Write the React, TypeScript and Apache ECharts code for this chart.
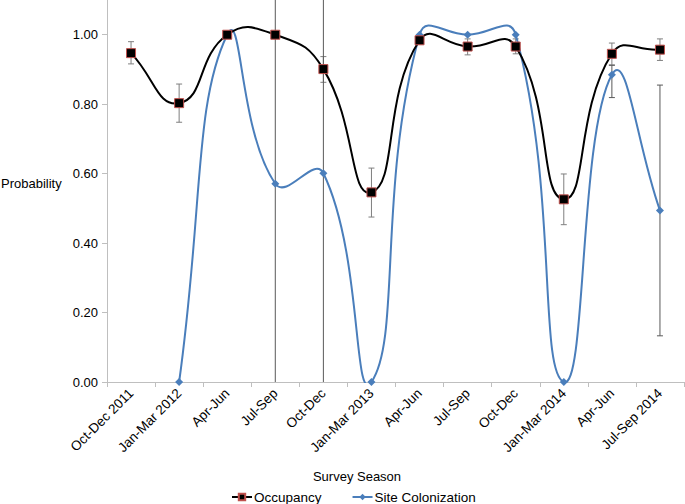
import React, { useEffect, useRef } from "react";
import * as echarts from "echarts";

const categories = [
  "Oct-Dec 2011", "Jan-Mar 2012", "Apr-Jun", "Jul-Sep", "Oct-Dec", "Jan-Mar 2013",
  "Apr-Jun", "Jul-Sep", "Oct-Dec", "Jan-Mar 2014", "Apr-Jun", "Jul-Sep 2014",
];
const occupancy: (number | null)[] = [0.947, 0.803, 1.0, 1.0, 0.901, 0.546, 0.984, 0.966, 0.966, 0.526, 0.945, 0.957];
const occLow: (number | null)[] = [0.916, 0.748, 1.0, 1.0, 0.863, 0.475, 0.975, 0.942, 0.945, 0.453, 0.913, 0.926];
const occHigh: (number | null)[] = [0.98, 0.858, 1.0, 1.0, 0.937, 0.616, 0.993, 0.988, 0.988, 0.599, 0.976, 0.988];
const colonization: (number | null)[] = [null, 0, 1.0, 0.571, 0.601, 0, 1.0, 1.0, 1.0, 0, 0.885, 0.494];
const colLow: (number | null)[] = [null, 0, 1.0, -0.5, -0.5, 0, 1.0, 1.0, 1.0, 0, 0.819, 0.133];
const colHigh: (number | null)[] = [null, 0, 1.0, 1.6, 1.7, 0, 1.0, 1.0, 1.0, 0, 0.912, 0.855];

const Y_MIN = 0;
const Y_MAX = 1.1;
const SMOOTH = 0.5;

function errorSeries(name: string, low: (number | null)[], high: (number | null)[], color: string) {
  const data: number[][] = [];
  low.forEach((l, i) => {
    const h = high[i];
    if (l == null || h == null || l === h) return;
    data.push([i, l, h]);
  });
  return {
    type: "custom",
    name,
    data,
    z: 1,
    silent: true,
    encode: { x: 0, y: [1, 2] },
    renderItem: (params: any, api: any) => {
      const idx = api.value(0);
      const lo = api.value(1);
      const hi = api.value(2);
      const cl = Math.max(lo, Y_MIN);
      const ch = Math.min(hi, Y_MAX);
      const p1 = api.coord([idx, cl]);
      const p2 = api.coord([idx, ch]);
      const half = 3;
      const style = { stroke: color, lineWidth: 1 };
      const children: any[] = [
        { type: "line", shape: { x1: p1[0], y1: p1[1], x2: p2[0], y2: p2[1] }, style },
      ];
      if (lo >= Y_MIN) {
        children.push({ type: "line", shape: { x1: p1[0] - half, y1: p1[1], x2: p1[0] + half, y2: p1[1] }, style });
      }
      if (hi <= Y_MAX) {
        children.push({ type: "line", shape: { x1: p2[0] - half, y1: p2[1], x2: p2[0] + half, y2: p2[1] }, style });
      }
      return { type: "group", children };
    },
  };
}

// One item per segment: [i0, y0, i1, y1, i2, y2, i3, y3] (neighbours repeat endpoints when missing)
function curveSeries(name: string, values: (number | null)[], color: string, z: number) {
  const data: number[][] = [];
  for (let i = 0; i < values.length - 1; i++) {
    const a = values[i];
    const b = values[i + 1];
    if (a == null || b == null) continue;
    const pv = i - 1 >= 0 ? values[i - 1] : null;
    const nx = i + 2 < values.length ? values[i + 2] : null;
    data.push([
      pv == null ? i : i - 1, pv == null ? a : pv,
      i, a,
      i + 1, b,
      nx == null ? i + 1 : i + 2, nx == null ? b : nx,
    ]);
  }
  return {
    type: "custom",
    name,
    data,
    z,
    silent: true,
    encode: { x: [0, 2, 4, 6], y: [1, 3, 5, 7] },
    renderItem: (params: any, api: any) => {
      const P = [0, 1, 2, 3].map((k) => api.coord([api.value(2 * k), api.value(2 * k + 1)]));
      const [p0, p1, p2, p3] = P;
      const dist = (u: number[], v: number[]) => Math.hypot(u[0] - v[0], u[1] - v[1]);
      const d01 = dist(p0, p1);
      const d12 = dist(p1, p2);
      const d23 = dist(p2, p3);
      const r1 = d01 + d12 > 0 ? d12 / (d01 + d12) : 0;
      const r2 = d12 + d23 > 0 ? d12 / (d12 + d23) : 0;
      const cp1 = [p1[0] + (p2[0] - p0[0]) * SMOOTH * r1, p1[1] + (p2[1] - p0[1]) * SMOOTH * r1];
      const cp2 = [p2[0] - (p3[0] - p1[0]) * SMOOTH * r2, p2[1] - (p3[1] - p1[1]) * SMOOTH * r2];
      const cs = params.coordSys;
      return {
        type: "bezierCurve",
        shape: { x1: p1[0], y1: p1[1], x2: p2[0], y2: p2[1], cpx1: cp1[0], cpy1: cp1[1], cpx2: cp2[0], cpy2: cp2[1] },
        style: { stroke: color, lineWidth: 2, fill: null, lineCap: "round" },
        clipPath: { type: "rect", shape: { x: cs.x, y: cs.y - 20, width: cs.width + 2, height: cs.height + 21 } },
      };
    },
  };
}

export default function App() {
  const ref = useRef<HTMLDivElement>(null);
  useEffect(() => {
    if (!ref.current) return;
    const chart = echarts.init(ref.current, null, { renderer: "svg" });
    const font = "Liberation Sans, Arial, sans-serif";
    chart.setOption({
      animation: false,
      textStyle: { fontFamily: font },
      grid: { left: 107, right: 1, top: 0, bottom: 122, containLabel: false },
      legend: {
        left: 226,
        top: 485,
        itemWidth: 20,
        itemHeight: 8,
        itemGap: 30,
        data: [
          { name: "Occupancy", lineStyle: { color: "#000", width: 2, opacity: 1 } },
          { name: "Site Colonization", lineStyle: { color: "#4a7ebb", width: 2, opacity: 1 } },
        ],
        textStyle: { fontSize: 13.5, color: "#000", fontFamily: font, padding: [0, 0, 0, -3] },
      },
      graphic: [
        {
          type: "text",
          left: 1,
          top: 177,
          style: { text: "Probability", fontSize: 13, fill: "#000", fontFamily: font },
        },
        {
          type: "text",
          x: 357,
          y: 476,
          style: {
            text: "Survey Season",
            fontSize: 13,
            fill: "#000",
            fontFamily: font,
            align: "center",
            verticalAlign: "middle",
          },
        },
      ],
      xAxis: {
        type: "category",
        data: categories,
        boundaryGap: true,
        axisLine: { lineStyle: { color: "#bfbfbf", width: 1 } },
        axisTick: { show: true, length: 5, lineStyle: { color: "#bfbfbf" } },
        axisLabel: {
          rotate: 45,
          interval: 0,
          margin: 9,
          fontSize: 13.5,
          color: "#000",
          fontFamily: font,
        },
        splitLine: { show: false },
      },
      yAxis: {
        type: "value",
        min: Y_MIN,
        max: Y_MAX,
        interval: 0.2,
        axisLine: { show: true, lineStyle: { color: "#bfbfbf", width: 1 } },
        axisTick: { show: true, length: 5, lineStyle: { color: "#bfbfbf" } },
        axisLabel: {
          showMaxLabel: false,
          margin: 9,
          fontSize: 13,
          color: "#000",
          fontFamily: font,
          formatter: (v: number) => (Math.abs(v - 1.1) < 1e-6 ? "" : v.toFixed(2)),
        },
        splitLine: { show: false },
      },
      series: [
        errorSeries("occErr", occLow, occHigh, "#7f7f7f"),
        errorSeries("colErr", colLow, colHigh, "#595959"),
        curveSeries("colCurve", colonization, "#4a7ebb", 2),
        curveSeries("occCurve", occupancy, "#000", 3),
        {
          type: "line",
          name: "Site Colonization",
          data: colonization.map((v) => (v == null ? "-" : v)),
          z: 5,
          symbol: "diamond",
          symbolSize: 8,
          lineStyle: { color: "#4a7ebb", width: 2, opacity: 0 },
          itemStyle: { color: "#4a7ebb" },
        },
        {
          type: "line",
          name: "Occupancy",
          data: occupancy,
          z: 6,
          symbol: "rect",
          symbolSize: 9,
          lineStyle: { color: "#000", width: 2, opacity: 0 },
          itemStyle: { color: "#000", borderColor: "#c0504d", borderWidth: 1 },
        },
      ],
    });
    return () => chart.dispose();
  }, []);
  return (
    <div
      ref={ref}
      style={{ position: "absolute", left: 0, top: 0, width: 685, height: 504, background: "#fff" }}
    />
  );
}
